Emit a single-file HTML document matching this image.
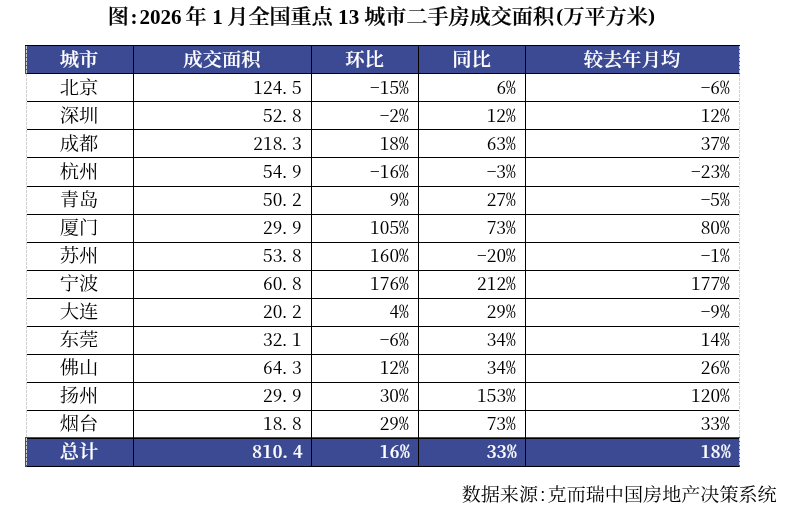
<!DOCTYPE html>
<html lang="zh-CN"><head><meta charset="utf-8"><title>图:2026年1月全国重点13城市二手房成交面积(万平方米)</title>
<style>
html,body{margin:0;padding:0;background:#fff;}
body{width:796px;height:513px;position:relative;overflow:hidden;font-family:"Liberation Serif","Noto Serif CJK SC",serif;color:#000;}
.title{position:absolute;left:0;top:0px;width:796px;height:32px;margin:0;font-weight:normal;font-size:21.1px;line-height:32px;white-space:nowrap;}
.title span{position:absolute;}
.title .k{top:-1.1px;}
.title .l{top:1.2px;}
.title .p{transform:scaleY(0.93);transform-origin:50% 30%;top:0.2px;}
.title .k{font-family:"Noto Serif CJK SC",serif;font-weight:600;-webkit-text-stroke:0.25px #000;transform:scaleY(0.945);transform-origin:50% 76%;}
.title .l{font-family:"Liberation Serif","Noto Serif CJK SC",serif;font-weight:bold;}
.band{position:absolute;left:25px;width:715px;height:29px;background:#3b4a93;}
.hl{position:absolute;left:27px;width:712px;height:1px;background:#000;}
.vl{position:absolute;top:45px;width:1px;height:422px;background:#000;}
.dl{position:absolute;top:46px;width:1px;height:420px;background:repeating-linear-gradient(to bottom,#cfcfcf 0,#cfcfcf 3px,transparent 3px,transparent 4px);}
.cell{position:absolute;box-sizing:border-box;font-family:"Noto Serif CJK SC","Liberation Serif",serif;font-size:19.33px;line-height:27px;white-space:nowrap;font-feature-settings:"hwid";}
.cell span{display:inline-block;position:relative;}
.cell.c{text-align:center;}
.cell.c span{left:-0.5px;top:-1.1px;transform:scaleY(0.95);transform-origin:50% 80%;}
.cell.r{text-align:right;padding-right:9.3px;}
.cell.r span{transform:scaleY(0.91);transform-origin:50% 74%;top:-0.9px;}
.cell i{font-style:normal;position:relative;left:-2.7px;}
.cell.d{font-weight:400;}
.cell.h.r{letter-spacing:0.5px;padding-right:7.8px;}
.cell.h{color:#fff;font-weight:600;-webkit-text-stroke:0.2px #fff;}
.src{position:absolute;right:19.3px;top:479px;font-family:"Noto Serif CJK SC","Liberation Serif",serif;font-size:19.1px;line-height:28px;white-space:nowrap;font-feature-settings:"hwid";font-weight:400;margin:0;transform:scaleY(0.95);transform-origin:50% 85%;}
</style></head><body>

<h1 class="title"><span class="k" style="left:107.7px">图</span><span class="l" style="left:130.6px">:</span><span class="l" style="left:139.4px">2026</span><span class="k" style="left:185.4px">年</span><span class="l" style="left:212.3px">1</span><span class="k" style="left:227.3px">月全国重点</span><span class="l" style="left:338.1px">13</span><span class="k" style="left:364.2px">城市二手房成交面积</span><span class="l p" style="left:556.2px">(</span><span class="k" style="left:563.4px">万平方米</span><span class="l p" style="left:648.0px">)</span></h1>
<div class="band" style="top:45px"></div>
<div class="band" style="top:437px;height:30px"></div>
<div class="hl" style="top:45px;left:25px;width:715px"></div>
<div class="hl" style="top:73px"></div>
<div class="hl" style="top:101px"></div>
<div class="hl" style="top:129px"></div>
<div class="hl" style="top:157px"></div>
<div class="hl" style="top:186px"></div>
<div class="hl" style="top:214px"></div>
<div class="hl" style="top:242px"></div>
<div class="hl" style="top:270px"></div>
<div class="hl" style="top:298px"></div>
<div class="hl" style="top:326px"></div>
<div class="hl" style="top:354px"></div>
<div class="hl" style="top:382px"></div>
<div class="hl" style="top:410px"></div>
<div class="hl" style="top:438px"></div>
<div class="hl" style="top:466px"></div>
<div class="vl" style="left:133px"></div>
<div class="vl" style="left:311px"></div>
<div class="vl" style="left:418px"></div>
<div class="vl" style="left:525px"></div>
<div class="dl" style="left:26px"></div>
<div class="dl" style="left:739px"></div>
<div class="cell h c" style="left:26px;top:46px;width:107px;height:27px;line-height:27px"><span>城市</span></div>
<div class="cell h c" style="left:134px;top:46px;width:177px;height:27px;line-height:27px"><span>成交面积</span></div>
<div class="cell h c" style="left:312px;top:46px;width:106px;height:27px;line-height:27px"><span>环比</span></div>
<div class="cell h c" style="left:419px;top:46px;width:106px;height:27px;line-height:27px"><span>同比</span></div>
<div class="cell h c" style="left:526px;top:46px;width:213px;height:27px;line-height:27px"><span>较去年月均</span></div>
<div class="cell d c" style="left:26px;top:74px;width:107px;height:27px;line-height:27px"><span>北京</span></div>
<div class="cell d r" style="left:134px;top:74px;width:177px;height:27px;line-height:27px"><span>124<i>.</i>5</span></div>
<div class="cell d r" style="left:312px;top:74px;width:106px;height:27px;line-height:27px"><span>-15%</span></div>
<div class="cell d r" style="left:419px;top:74px;width:106px;height:27px;line-height:27px"><span>6%</span></div>
<div class="cell d r" style="left:526px;top:74px;width:213px;height:27px;line-height:27px"><span>-6%</span></div>
<div class="cell d c" style="left:26px;top:102px;width:107px;height:27px;line-height:27px"><span>深圳</span></div>
<div class="cell d r" style="left:134px;top:102px;width:177px;height:27px;line-height:27px"><span>52<i>.</i>8</span></div>
<div class="cell d r" style="left:312px;top:102px;width:106px;height:27px;line-height:27px"><span>-2%</span></div>
<div class="cell d r" style="left:419px;top:102px;width:106px;height:27px;line-height:27px"><span>12%</span></div>
<div class="cell d r" style="left:526px;top:102px;width:213px;height:27px;line-height:27px"><span>12%</span></div>
<div class="cell d c" style="left:26px;top:130px;width:107px;height:27px;line-height:27px"><span>成都</span></div>
<div class="cell d r" style="left:134px;top:130px;width:177px;height:27px;line-height:27px"><span>218<i>.</i>3</span></div>
<div class="cell d r" style="left:312px;top:130px;width:106px;height:27px;line-height:27px"><span>18%</span></div>
<div class="cell d r" style="left:419px;top:130px;width:106px;height:27px;line-height:27px"><span>63%</span></div>
<div class="cell d r" style="left:526px;top:130px;width:213px;height:27px;line-height:27px"><span>37%</span></div>
<div class="cell d c" style="left:26px;top:158px;width:107px;height:27px;line-height:27px"><span>杭州</span></div>
<div class="cell d r" style="left:134px;top:158px;width:177px;height:27px;line-height:27px"><span>54<i>.</i>9</span></div>
<div class="cell d r" style="left:312px;top:158px;width:106px;height:27px;line-height:27px"><span>-16%</span></div>
<div class="cell d r" style="left:419px;top:158px;width:106px;height:27px;line-height:27px"><span>-3%</span></div>
<div class="cell d r" style="left:526px;top:158px;width:213px;height:27px;line-height:27px"><span>-23%</span></div>
<div class="cell d c" style="left:26px;top:186px;width:107px;height:27px;line-height:27px"><span>青岛</span></div>
<div class="cell d r" style="left:134px;top:186px;width:177px;height:27px;line-height:27px"><span>50<i>.</i>2</span></div>
<div class="cell d r" style="left:312px;top:186px;width:106px;height:27px;line-height:27px"><span>9%</span></div>
<div class="cell d r" style="left:419px;top:186px;width:106px;height:27px;line-height:27px"><span>27%</span></div>
<div class="cell d r" style="left:526px;top:186px;width:213px;height:27px;line-height:27px"><span>-5%</span></div>
<div class="cell d c" style="left:26px;top:214px;width:107px;height:27px;line-height:27px"><span>厦门</span></div>
<div class="cell d r" style="left:134px;top:214px;width:177px;height:27px;line-height:27px"><span>29<i>.</i>9</span></div>
<div class="cell d r" style="left:312px;top:214px;width:106px;height:27px;line-height:27px"><span>105%</span></div>
<div class="cell d r" style="left:419px;top:214px;width:106px;height:27px;line-height:27px"><span>73%</span></div>
<div class="cell d r" style="left:526px;top:214px;width:213px;height:27px;line-height:27px"><span>80%</span></div>
<div class="cell d c" style="left:26px;top:242px;width:107px;height:27px;line-height:27px"><span>苏州</span></div>
<div class="cell d r" style="left:134px;top:242px;width:177px;height:27px;line-height:27px"><span>53<i>.</i>8</span></div>
<div class="cell d r" style="left:312px;top:242px;width:106px;height:27px;line-height:27px"><span>160%</span></div>
<div class="cell d r" style="left:419px;top:242px;width:106px;height:27px;line-height:27px"><span>-20%</span></div>
<div class="cell d r" style="left:526px;top:242px;width:213px;height:27px;line-height:27px"><span>-1%</span></div>
<div class="cell d c" style="left:26px;top:270px;width:107px;height:27px;line-height:27px"><span>宁波</span></div>
<div class="cell d r" style="left:134px;top:270px;width:177px;height:27px;line-height:27px"><span>60<i>.</i>8</span></div>
<div class="cell d r" style="left:312px;top:270px;width:106px;height:27px;line-height:27px"><span>176%</span></div>
<div class="cell d r" style="left:419px;top:270px;width:106px;height:27px;line-height:27px"><span>212%</span></div>
<div class="cell d r" style="left:526px;top:270px;width:213px;height:27px;line-height:27px"><span>177%</span></div>
<div class="cell d c" style="left:26px;top:298px;width:107px;height:27px;line-height:27px"><span>大连</span></div>
<div class="cell d r" style="left:134px;top:298px;width:177px;height:27px;line-height:27px"><span>20<i>.</i>2</span></div>
<div class="cell d r" style="left:312px;top:298px;width:106px;height:27px;line-height:27px"><span>4%</span></div>
<div class="cell d r" style="left:419px;top:298px;width:106px;height:27px;line-height:27px"><span>29%</span></div>
<div class="cell d r" style="left:526px;top:298px;width:213px;height:27px;line-height:27px"><span>-9%</span></div>
<div class="cell d c" style="left:26px;top:326px;width:107px;height:27px;line-height:27px"><span>东莞</span></div>
<div class="cell d r" style="left:134px;top:326px;width:177px;height:27px;line-height:27px"><span>32<i>.</i>1</span></div>
<div class="cell d r" style="left:312px;top:326px;width:106px;height:27px;line-height:27px"><span>-6%</span></div>
<div class="cell d r" style="left:419px;top:326px;width:106px;height:27px;line-height:27px"><span>34%</span></div>
<div class="cell d r" style="left:526px;top:326px;width:213px;height:27px;line-height:27px"><span>14%</span></div>
<div class="cell d c" style="left:26px;top:354px;width:107px;height:27px;line-height:27px"><span>佛山</span></div>
<div class="cell d r" style="left:134px;top:354px;width:177px;height:27px;line-height:27px"><span>64<i>.</i>3</span></div>
<div class="cell d r" style="left:312px;top:354px;width:106px;height:27px;line-height:27px"><span>12%</span></div>
<div class="cell d r" style="left:419px;top:354px;width:106px;height:27px;line-height:27px"><span>34%</span></div>
<div class="cell d r" style="left:526px;top:354px;width:213px;height:27px;line-height:27px"><span>26%</span></div>
<div class="cell d c" style="left:26px;top:382px;width:107px;height:27px;line-height:27px"><span>扬州</span></div>
<div class="cell d r" style="left:134px;top:382px;width:177px;height:27px;line-height:27px"><span>29<i>.</i>9</span></div>
<div class="cell d r" style="left:312px;top:382px;width:106px;height:27px;line-height:27px"><span>30%</span></div>
<div class="cell d r" style="left:419px;top:382px;width:106px;height:27px;line-height:27px"><span>153%</span></div>
<div class="cell d r" style="left:526px;top:382px;width:213px;height:27px;line-height:27px"><span>120%</span></div>
<div class="cell d c" style="left:26px;top:410px;width:107px;height:27px;line-height:27px"><span>烟台</span></div>
<div class="cell d r" style="left:134px;top:410px;width:177px;height:27px;line-height:27px"><span>18<i>.</i>8</span></div>
<div class="cell d r" style="left:312px;top:410px;width:106px;height:27px;line-height:27px"><span>29%</span></div>
<div class="cell d r" style="left:419px;top:410px;width:106px;height:27px;line-height:27px"><span>73%</span></div>
<div class="cell d r" style="left:526px;top:410px;width:213px;height:27px;line-height:27px"><span>33%</span></div>
<div class="cell h c" style="left:26px;top:438px;width:107px;height:27px;line-height:27px"><span>总计</span></div>
<div class="cell h r" style="left:134px;top:438px;width:177px;height:27px;line-height:27px"><span>810<i>.</i>4</span></div>
<div class="cell h r" style="left:312px;top:438px;width:106px;height:27px;line-height:27px"><span>16%</span></div>
<div class="cell h r" style="left:419px;top:438px;width:106px;height:27px;line-height:27px"><span>33%</span></div>
<div class="cell h r" style="left:526px;top:438px;width:213px;height:27px;line-height:27px"><span>18%</span></div>
<p class="src">数据来源:克而瑞中国房地产决策系统</p>
</body></html>
